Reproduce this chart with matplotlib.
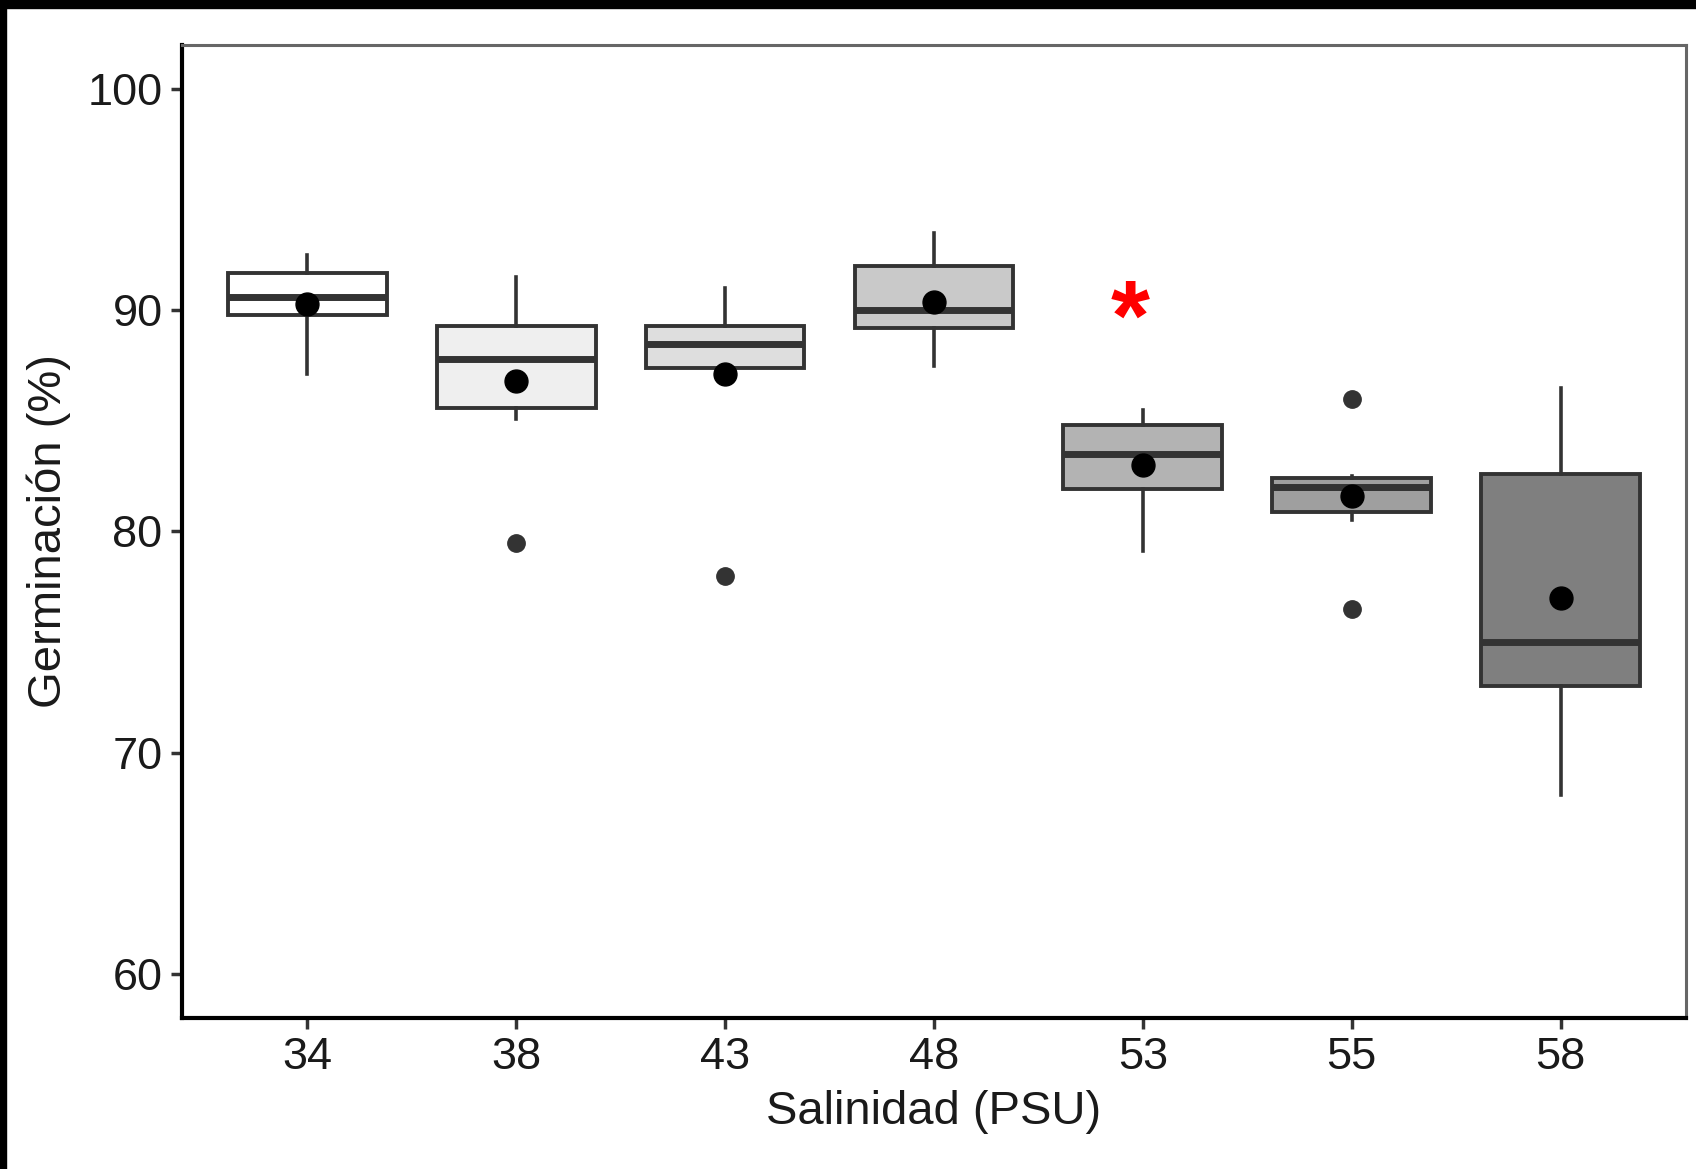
import numpy as np
import matplotlib
matplotlib.use("Agg")
import matplotlib.pyplot as plt
from matplotlib.patches import Rectangle

# ---------------------------------------------------------------------------
# Data
# ---------------------------------------------------------------------------
salinity = ["34", "38", "43", "48", "53", "55", "58"]
whislo = [87.1, 85.1, 87.4, 87.5, 79.1, 80.5, 68.1]
q1     = [89.8, 85.6, 87.4, 89.2, 81.9, 80.9, 73.0]
med    = [90.6, 87.8, 88.5, 90.0, 83.5, 82.0, 75.0]
q3     = [91.7, 89.3, 89.3, 92.0, 84.8, 82.4, 82.6]
whishi = [92.5, 91.5, 91.0, 93.5, 85.5, 82.5, 86.5]
means  = [90.3, 86.8, 87.1, 90.4, 83.0, 81.6, 77.0]
outliers = [[], [79.5], [78.0], [], [], [86.0, 76.5], []]
fills = ["#FFFFFF", "#EFEFEF", "#DEDEDE", "#C9C9C9", "#B3B3B3", "#9F9F9F", "#7F7F7F"]

# significance mark
star_pos = 4.94
star_val = 89.4

# ---------------------------------------------------------------------------
# Plot
# ---------------------------------------------------------------------------
plt.rcParams["font.family"] = ["Liberation Sans", "DejaVu Sans"]
fig = plt.figure(figsize=(16.96, 11.69), dpi=100)
ax = fig.add_axes([0.1073, 0.1292, 0.8868, 0.8323])

stats = []
for i in range(len(salinity)):
    stats.append(dict(whislo=whislo[i], q1=q1[i], med=med[i], q3=q3[i],
                      whishi=whishi[i], fliers=outliers[i]))

pos = np.arange(1, len(salinity) + 1)
edge = "#333333"
bp = ax.bxp(stats, positions=pos, widths=0.76, patch_artist=True,
            showcaps=False,
            boxprops=dict(edgecolor=edge, linewidth=2.8),
            medianprops=dict(color=edge, linewidth=5, solid_capstyle="butt"),
            whiskerprops=dict(color=edge, linewidth=2.6),
            flierprops=dict(marker="o", markerfacecolor=edge, markeredgecolor=edge,
                            markersize=12.5))
for patch, c in zip(bp["boxes"], fills):
    patch.set_facecolor(c)

ax.plot(pos, means, "o", color="black", markersize=16.5, zorder=5)

ax.text(star_pos, star_val, "*", color="red", fontsize=72, fontweight="bold",
        ha="center", va="center", zorder=6)

ax.set_xlim(0.4, 7.6)
ax.set_ylim(58, 102)
ax.set_yticks([60, 70, 80, 90, 100])
ax.set_xticks(pos)
ax.set_xticklabels(salinity)

ax.tick_params(axis="both", labelsize=32.5, length=8, width=2.5, color=edge,
               labelcolor="#1a1a1a", pad=6)
ax.set_xlabel("Salinidad (PSU)", fontsize=34, color="#1a1a1a", labelpad=8)
ax.set_ylabel("Germinación (%)", fontsize=34, color="#1a1a1a", labelpad=12)

ax.spines["left"].set_linewidth(3)
ax.spines["bottom"].set_linewidth(3)
ax.spines["left"].set_color("black")
ax.spines["bottom"].set_color("black")
for s in ["top", "right"]:
    ax.spines[s].set_linewidth(2.2)
    ax.spines[s].set_color("#666666")

# black frame strips along the top and left edges of the image
fig.patches.append(Rectangle((0, 1 - 8 / 1169), 1, 8 / 1169, transform=fig.transFigure,
                             color="black", zorder=10))
fig.patches.append(Rectangle((0, 0), 6 / 1696, 1, transform=fig.transFigure,
                             color="black", zorder=10))

fig.savefig("out.png", dpi=100)
